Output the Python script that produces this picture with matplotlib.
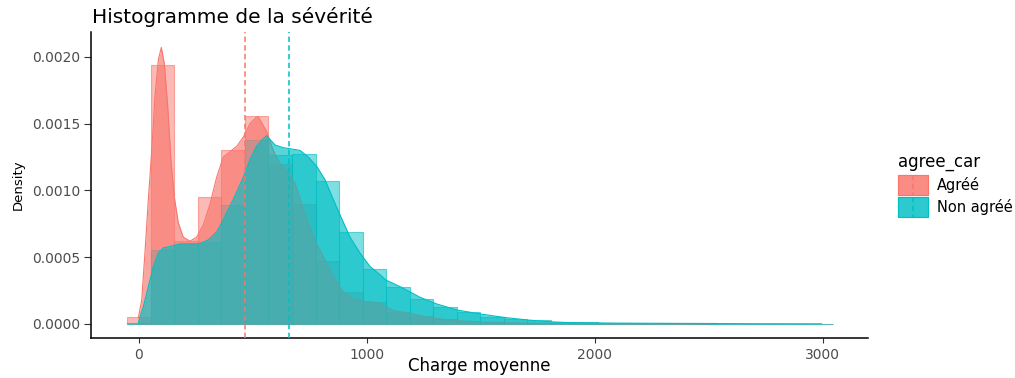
import numpy as np
import matplotlib.pyplot as plt
from matplotlib.patches import Rectangle
from matplotlib.lines import Line2D
from matplotlib.ticker import FormatStrFormatter

# Groups and ggplot-like hues
groups = ["Agréé", "Non agréé"]
colors = ["#F8766D", "#00BFC4"]

# Histogram (density scale), 30 bins of equal width
bin_left = -51.65
bin_width = 103.3
hist_agree = [0.00005, 0.00194, 0.00062, 0.00095, 0.00130, 0.00156, 0.00120, 0.00090,
              0.00047, 0.00024, 0.000167, 0.000092, 0.00006, 0.000037, 0.000025, 0.000015,
              0.00001, 0.000008, 0.000005, 0.000004, 0.000004, 0.000004, 0.0, 0.000004,
              0.000004, 0.0, 0.0, 0.0, 0.0, 0.0]
hist_non_agree = [0.00001, 0.000554, 0.0006, 0.000616, 0.00089, 0.001377, 0.001265, 0.001272,
                  0.001073, 0.000691, 0.000409, 0.000275, 0.000187, 0.000125, 0.000088, 0.000055,
                  0.00004, 0.000028, 0.000015, 0.000013, 0.000006, 0.000006, 0.000005, 0.0,
                  0.000004, 0.0, 0.0, 0.0, 0.0, 0.0]

# Kernel density estimates
dens_agree_x = [-3, 12, 26, 41, 56, 70, 85, 98, 111, 126, 140, 155, 172, 194, 224, 253, 282,
                312, 341, 370, 399, 429, 458, 487, 516, 524, 560, 589, 619, 655, 685, 714, 743,
                780, 816, 853, 897, 940, 984, 1043, 1082, 1116, 1189, 1291, 1394, 1497, 1672,
                1900, 2200, 2500]
dens_agree_y = [0.000045, 0.00018, 0.00053, 0.00093, 0.0013, 0.0017, 0.00198, 0.00207, 0.00195,
                0.00163, 0.00123, 0.00095, 0.00076, 0.00065, 0.00062, 0.00065, 0.00074, 0.0009,
                0.0011, 0.00125, 0.00129, 0.00133, 0.0014, 0.0015, 0.00155, 0.00155, 0.00144,
                0.0013, 0.0012, 0.00113, 0.00105, 0.0009, 0.00075, 0.0006, 0.00048, 0.00035,
                0.00024, 0.00019, 0.00017, 0.00016, 0.00013, 0.0001, 0.00008, 0.000043,
                0.000025, 0.000015, 0.000007, 0.000004, 0.000003, 0.000002]
dens_non_agree_x = [-3, 19, 41, 63, 85, 107, 136, 180, 224, 268, 304, 341, 370, 399, 429, 458,
                    487, 516, 540, 560, 597, 633, 670, 706, 743, 780, 816, 853, 889, 926, 970,
                    1014, 1057, 1082, 1145, 1233, 1306, 1394, 1496, 1599, 1701, 1817, 1890,
                    2100, 2400, 2700, 2995]
dens_non_agree_y = [0.00001, 0.00013, 0.00028, 0.00043, 0.00053, 0.00057, 0.00058, 0.0006,
                    0.0006, 0.0006, 0.00063, 0.00069, 0.00078, 0.00088, 0.00099, 0.0011, 0.00123,
                    0.00133, 0.00138, 0.00141, 0.00134, 0.00132, 0.00131, 0.0013, 0.00125,
                    0.00118, 0.00108, 0.00093, 0.00079, 0.00065, 0.00053, 0.00043, 0.00037,
                    0.00033, 0.00028, 0.0002, 0.00015, 0.000105, 0.000075, 0.00005, 0.00003,
                    0.000015, 0.00001, 0.000006, 0.000004, 0.000002, 0.000001]

# Group means (dashed lines)
means = [465, 657]

x_ticks = [0, 1000, 2000, 3000]
y_ticks = [0.0, 0.0005, 0.0010, 0.0015, 0.0020]

HIST_ALPHA = 0.5
DENS_ALPHA = 0.65
DASH = (0, (3.5, 2.2))

plt.rcParams["font.family"] = ["DejaVu Sans"]

W, H = 1015, 378
fig = plt.figure(figsize=(W / 100, H / 100), dpi=100)
ax = fig.add_axes([91 / W, 40 / H, 777 / W, 306 / H])


def rgba(c, a):
    r, g, b, _ = plt.matplotlib.colors.to_rgba(c)
    return (r, g, b, a)


hists = [hist_agree, hist_non_agree]
dens = [(dens_agree_x, dens_agree_y), (dens_non_agree_x, dens_non_agree_y)]

# histograms first, then densities, then mean lines
for i, (h, c) in enumerate(zip(hists, colors)):
    lefts = bin_left + bin_width * np.arange(len(h))
    ax.bar(lefts, h, width=bin_width, align="edge",
           facecolor=rgba(c, HIST_ALPHA), edgecolor=rgba(c, 0.6),
           linewidth=0.8, zorder=1 + i)

for i, ((dx, dy), c) in enumerate(zip(dens, colors)):
    ax.fill_between(dx, dy, 0, color=c, alpha=DENS_ALPHA, linewidth=0, zorder=3 + i)
    ax.plot(dx, dy, color=c, linewidth=0.8, zorder=3 + i)

for m, c in zip(means, colors):
    ax.axvline(m, color=c, linewidth=1.1, linestyle=DASH, zorder=6)

ax.set_xlim(-210.6, 3198.8)
ax.set_ylim(-0.000105, 0.002186)
ax.set_xticks(x_ticks)
ax.set_yticks(y_ticks)
ax.yaxis.set_major_formatter(FormatStrFormatter("%.4f"))

for side in ["top", "right"]:
    ax.spines[side].set_visible(False)
for side in ["left", "bottom"]:
    ax.spines[side].set_color("black")
    ax.spines[side].set_linewidth(1.1)

ax.tick_params(axis="y", length=5, width=0.8, color="#333333", pad=3,
               labelsize=10, labelcolor="#4D4D4D")
ax.tick_params(axis="x", length=3.6, width=0.8, color="#333333", pad=3.6,
               labelsize=10, labelcolor="#4D4D4D")

ax.set_xlabel("Charge moyenne", fontsize=12)
ax.xaxis.set_label_coords(0.5, (338 - 357) / 306)
ax.set_ylabel("Density", fontsize=9.5)
ax.yaxis.set_label_coords((25 - 91) / 777, 0.5)

fig.text(92 / W, 1 - 22.7 / H, "Histogramme de la sévérité", fontsize=14.5,
         ha="left", va="baseline")

# legend
fig.text(898 / W, 1 - 167 / H, "agree_car", fontsize=12, ha="left", va="baseline")
for i, (g, c) in enumerate(zip(groups, colors)):
    top = 175 + i * 22.3
    x0, kw, kh = 898, 30, 20
    for a, ec in [(HIST_ALPHA, rgba(c, 0.6)), (DENS_ALPHA, c)]:
        fig.add_artist(Rectangle((x0 / W, 1 - (top + kh) / H), kw / W, kh / H,
                                 transform=fig.transFigure, facecolor=rgba(c, a),
                                 edgecolor=ec, linewidth=0.8))
    fig.add_artist(Line2D([(x0 + kw / 2) / W] * 2, [1 - top / H, 1 - (top + kh) / H],
                          transform=fig.transFigure, color=c, linewidth=1.1,
                          linestyle=DASH))
    fig.text(937 / W, 1 - (top + kh / 2) / H, g, fontsize=10.5, ha="left", va="center")

fig.savefig("out.png", dpi=100)
